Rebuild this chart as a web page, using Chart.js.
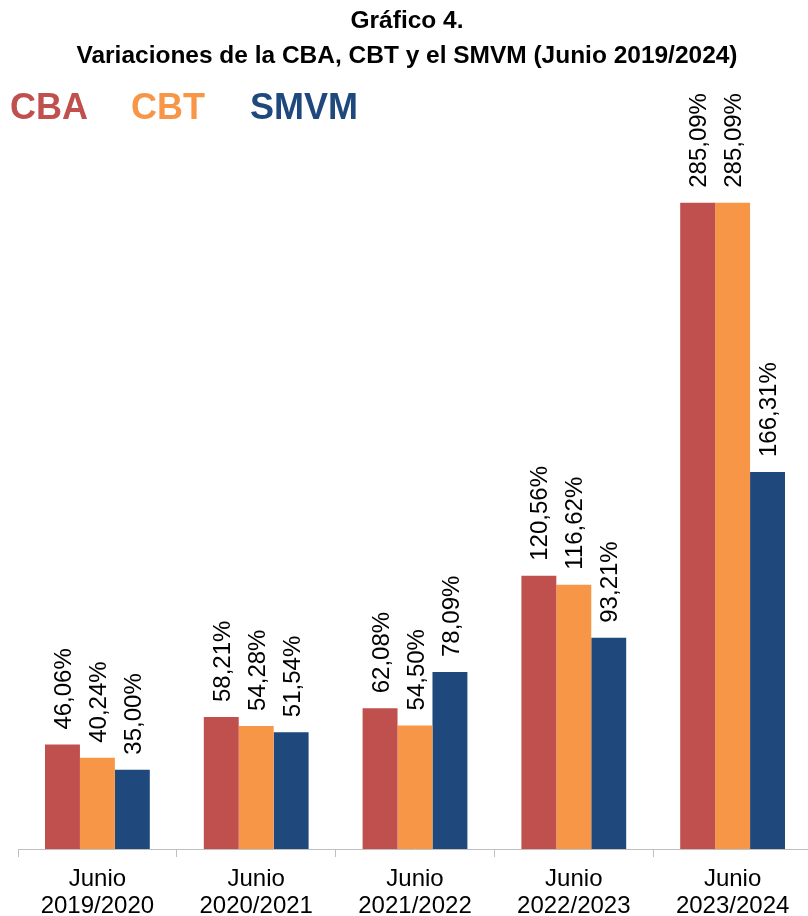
<!DOCTYPE html>
<html>
<head>
<meta charset="utf-8">
<script src="https://cdn.jsdelivr.net/npm/chart.js@4"></script>
<style>
  html, body { margin: 0; padding: 0; background: #fff; overflow: hidden; }
  #wrap { position: fixed; left: 0; top: 0; width: 813px; height: 916px; }
</style>
</head>
<body>
<div id="wrap"><canvas id="chart"></canvas></div>
<script>
var categories = [
  ['Junio', '2019/2020'],
  ['Junio', '2020/2021'],
  ['Junio', '2021/2022'],
  ['Junio', '2022/2023'],
  ['Junio', '2023/2024']
];
var cba  = [46.06, 58.21, 62.08, 120.56, 285.09];
var cbt  = [40.24, 54.28, 54.50, 116.62, 285.09];
var smvm = [35.00, 51.54, 78.09, 93.21, 166.31];

var seriesNames = ['CBA', 'CBT', 'SMVM'];
var seriesColors = ['#C0504D', '#F79646', '#1F497D'];

var FONT = '"Liberation Sans", Arial, sans-serif';

// title + coloured legend words
var headerPlugin = {
  id: 'header',
  afterDraw: function(chart) {
    var ctx = chart.ctx;
    ctx.save();
    ctx.fillStyle = '#000';
    ctx.font = 'bold 23px ' + FONT;
    ctx.textAlign = 'center';
    ctx.textBaseline = 'alphabetic';
    var line2 = 'Variaciones de la CBA, CBT y el SMVM (Junio 2019/2024)';
    var sx = 661 / ctx.measureText(line2).width;
    ctx.translate(407, 0);
    ctx.scale(sx, 1);
    ctx.fillText('Gráfico 4.', 0, 28);
    ctx.fillText(line2, 0, 63);
    ctx.restore();

    ctx.save();
    ctx.font = 'bold 36px ' + FONT;
    ctx.textAlign = 'left';
    var xs = [10, 131, 250];
    seriesNames.forEach(function(n, i) {
      ctx.fillStyle = seriesColors[i];
      ctx.fillText(n, xs[i], 119);
    });
    ctx.restore();
  }
};

// vertical value labels over each bar
var valuePlugin = {
  id: 'values',
  afterDatasetsDraw: function(chart) {
    var ctx = chart.ctx;
    ctx.save();
    ctx.font = '24px ' + FONT;
    ctx.fillStyle = '#000';
    ctx.textAlign = 'left';
    ctx.textBaseline = 'alphabetic';
    chart.data.datasets.forEach(function(ds, i) {
      chart.getDatasetMeta(i).data.forEach(function(bar, j) {
        var txt = ds.data[j].toFixed(2).replace('.', ',') + '%';
        ctx.save();
        ctx.translate(bar.x + 8.6, bar.y - 15);
        ctx.rotate(-Math.PI / 2);
        ctx.fillText(txt, 0, 0);
        ctx.restore();
      });
    });
    ctx.restore();
  }
};

var config = {
  type: 'bar',
  data: {
    labels: categories,
    datasets: [
      { label: 'CBA', data: cba, backgroundColor: seriesColors[0] },
      { label: 'CBT', data: cbt, backgroundColor: seriesColors[1] },
      { label: 'SMVM', data: smvm, backgroundColor: seriesColors[2] }
    ]
  },
  options: {
    responsive: true,
    maintainAspectRatio: false,
    animation: false,
    datasets: { bar: { barPercentage: 1, categoryPercentage: 0.66 } },
    layout: { padding: { left: 18, right: 1, top: 169, bottom: 0 } },
    plugins: {
      legend: { display: false },
      title: { display: false },
      tooltip: { enabled: false }
    },
    scales: {
      x: {
        afterFit: function(scale) { scale.height = 67; },
        grid: { display: true, drawOnChartArea: false, drawTicks: true, tickLength: 8, color: '#BFBFBF', lineWidth: 1 },
        border: { display: true, color: '#BFBFBF', width: 1 },
        ticks: { color: '#000', font: { family: FONT, size: 24, lineHeight: 1.12 }, padding: 9, maxRotation: 0, autoSkip: false }
      },
      y: {
        display: false,
        min: 0,
        max: 300
      }
    }
  },
  plugins: [headerPlugin, valuePlugin]
};

new Chart(document.getElementById('chart').getContext('2d'), config);
</script>
</body>
</html>
